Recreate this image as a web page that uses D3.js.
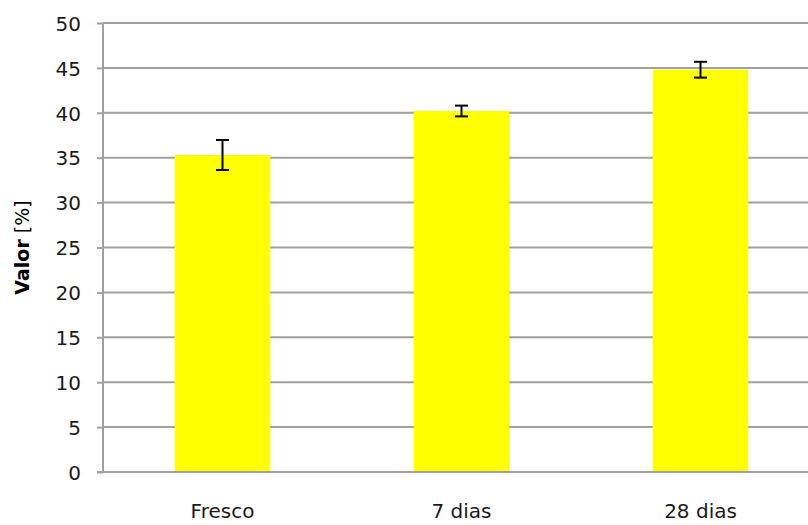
<!DOCTYPE html>
<html>
<head>
<meta charset="utf-8">
<script src="https://cdn.jsdelivr.net/npm/d3@7"></script>
<style>
  html, body { margin: 0; padding: 0; background: #ffffff; }
  svg { display: block; }
</style>
</head>
<body>
<svg id="chart" width="808" height="525"></svg>
<script>
const categories = ["Fresco", "7 dias", "28 dias"];
const values = [35.3, 40.2, 44.8];
const errors = [1.67, 0.6, 0.88];
const yTicks = [0, 5, 10, 15, 20, 25, 30, 35, 40, 45, 50];

(function () {
const svg = d3.select("#chart");
const mLeft = 103, mRight = 820, mTop = 23, mBottom = 472;

const x = d3.scaleBand().domain(categories).range([mLeft, mRight])
  .paddingInner(0.6).paddingOuter(0.3);
const y = d3.scaleLinear().domain([0, 50]).range([mBottom, mTop]);

const font = "'DejaVu Sans', sans-serif";
const gridColor = "#a0a0a0";

// gridlines
svg.append("g").selectAll("line").data(yTicks.filter(d => d > 0)).join("line")
  .attr("x1", mLeft).attr("x2", mRight)
  .attr("y1", d => y(d)).attr("y2", d => y(d))
  .attr("stroke", gridColor).attr("stroke-width", 2);

// bars
svg.append("g").selectAll("rect").data(categories).join("rect")
  .attr("x", d => x(d))
  .attr("width", x.bandwidth())
  .attr("y", (d, i) => y(values[i]))
  .attr("height", (d, i) => y(0) - y(values[i]))
  .attr("fill", "#ffff00");

// y axis
const yAxis = d3.axisLeft(y).tickValues(yTicks).tickSize(6).tickPadding(16);
const gy = svg.append("g").attr("transform", `translate(${mLeft},0)`).call(yAxis);
gy.select(".domain").attr("stroke", gridColor).attr("stroke-width", 2)
  .attr("d", `M0,${mBottom}V${mTop}`);
gy.selectAll(".tick line").attr("stroke", gridColor).attr("stroke-width", 2);
gy.selectAll(".tick text").attr("font-family", font).attr("font-size", 20)
  .attr("fill", "#1a1a1a").attr("dy", "0.36em");

// x axis
const xAxis = d3.axisBottom(x).tickSize(0).tickPadding(32);
const gx = svg.append("g").attr("transform", `translate(0,${mBottom})`).call(xAxis);
gx.select(".domain").attr("stroke", gridColor).attr("stroke-width", 2)
  .attr("d", `M${mLeft - 6},0H${mRight}`);
gx.selectAll(".tick text").attr("font-family", font).attr("font-size", 20)
  .attr("fill", "#1a1a1a").attr("dy", "0.71em");

// error bars
const eb = svg.append("g").attr("stroke", "#000").attr("stroke-width", 2);
categories.forEach((c, i) => {
  const cx = x(c) + x.bandwidth() / 2;
  const hi = y(values[i] + errors[i]), lo = y(values[i] - errors[i]);
  eb.append("line").attr("x1", cx).attr("x2", cx).attr("y1", hi).attr("y2", lo);
  eb.append("line").attr("x1", cx - 6.5).attr("x2", cx + 6.5).attr("y1", hi).attr("y2", hi);
  eb.append("line").attr("x1", cx - 6.5).attr("x2", cx + 6.5).attr("y1", lo).attr("y2", lo);
});

// y label
const yl = svg.append("text")
  .attr("transform", `translate(29,${(mTop + mBottom) / 2}) rotate(-90)`)
  .attr("text-anchor", "middle")
  .attr("font-family", font).attr("font-size", 19).attr("fill", "#000");
yl.append("tspan").attr("font-weight", "bold").text("Valor");
yl.append("tspan").text(" [%]");
})();
</script>
</body>
</html>
